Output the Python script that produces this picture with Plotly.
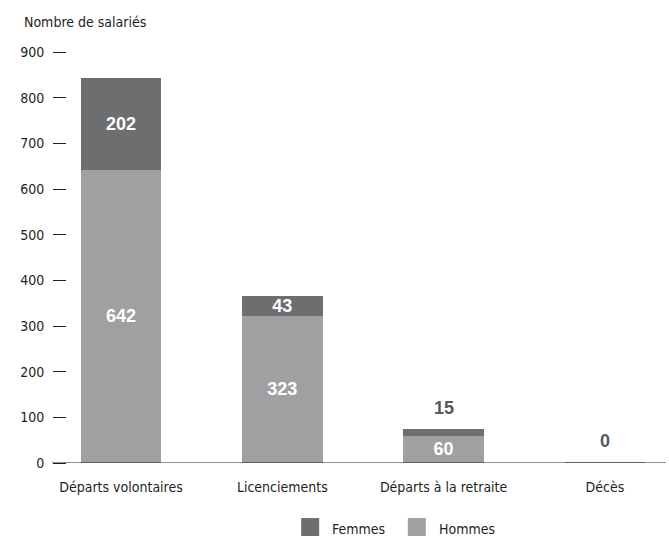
import plotly.graph_objects as go

# Departures by reason and sex
categories = ["Départs volontaires", "Licenciements", "Départs à la retraite", "Décès"]
hommes = [642, 323, 60, 2]
femmes = [202, 43, 15, 0]
hommes_labels = ["642", "323", "60", ""]
femmes_inside = [True, True, False, False]
y_ticks = [0, 100, 200, 300, 400, 500, 600, 700, 800, 900]

COL_HOMMES = "#a0a0a2"
COL_FEMMES = "#6d6e70"
TEXT_DARK = "#231f20"
LABEL_FONT = "Liberation Sans Narrow, DejaVu Sans Condensed, Arial Narrow, sans-serif"
VALUE_FONT = "Liberation Sans, Arial, sans-serif"

fig = go.Figure()
fig.add_trace(go.Bar(
    x=categories, y=hommes, name="Hommes", marker_color=COL_HOMMES,
    marker_line_width=0, text=hommes_labels, textposition="inside",
    insidetextanchor="middle", constraintext="none",
    insidetextfont=dict(family=VALUE_FONT, size=18, color="white", weight="bold"),
    showlegend=False, hoverinfo="skip",
))
fig.add_trace(go.Bar(
    x=categories, y=femmes, name="Femmes", marker_color=COL_FEMMES,
    marker_line_width=0,
    text=[str(v) if ins else "" for v, ins in zip(femmes, femmes_inside)],
    textposition="inside", insidetextanchor="middle", constraintext="none",
    insidetextfont=dict(family=VALUE_FONT, size=18, color="white", weight="bold"),
    showlegend=False, hoverinfo="skip",
))

shapes = [
    # baseline running under the bars and past the tick column
    dict(type="line", xref="paper", yref="y", x0=-0.025, x1=1, y0=0, y1=0,
         line=dict(color=TEXT_DARK, width=1)),
]
annotations = [
    dict(text="Nombre de salariés", xref="paper", yref="paper", x=-0.075, y=1.073,
         xanchor="left", yanchor="middle", showarrow=False,
         font=dict(family=LABEL_FONT, size=14, color=TEXT_DARK)),
]

# small Femmes values are written above their stacks
for cat, h, f, ins in zip(categories, hommes, femmes, femmes_inside):
    if not ins:
        annotations.append(dict(text=str(f), x=cat, y=h + f, xref="x", yref="y",
                                xanchor="center", yanchor="bottom", yshift=9,
                                showarrow=False,
                                font=dict(family=VALUE_FONT, size=18, color="#58595b",
                                          weight="bold")))

# legend swatches and labels
legend_items = [("Femmes", COL_FEMMES, 0.391), ("Hommes", COL_HOMMES, 0.569)]
for name, col, x0 in legend_items:
    shapes.append(dict(type="rect", xref="paper", yref="paper", x0=x0, x1=x0 + 0.030,
                       y0=-0.180, y1=-0.134, fillcolor=col, line=dict(width=0)))
    annotations.append(dict(text=name, xref="paper", yref="paper", x=x0 + 0.048, y=-0.161,
                            xanchor="left", yanchor="middle", showarrow=False,
                            font=dict(family=LABEL_FONT, size=14, color=TEXT_DARK)))

fig.update_layout(
    width=669, height=536,
    margin=dict(l=67, r=3, t=52, b=73),
    barmode="stack", bargap=0.5,
    plot_bgcolor="white", paper_bgcolor="white",
    font=dict(family=LABEL_FONT, size=14, color=TEXT_DARK),
    shapes=shapes, annotations=annotations,
    showlegend=False,
    xaxis=dict(range=[-0.335, 3.379], showgrid=False, showline=False, ticks="",
               zeroline=False, ticklabelstandoff=14,
               tickfont=dict(family=LABEL_FONT, size=14, color=TEXT_DARK)),
    yaxis=dict(range=[0, 900], tickvals=y_ticks, showgrid=False, showline=False,
               zeroline=False, ticks="outside", ticklen=13, tickwidth=1,
               tickcolor=TEXT_DARK, ticklabelstandoff=6,
               tickfont=dict(family=LABEL_FONT, size=14, color=TEXT_DARK)),
)

fig.write_html("out.html")
